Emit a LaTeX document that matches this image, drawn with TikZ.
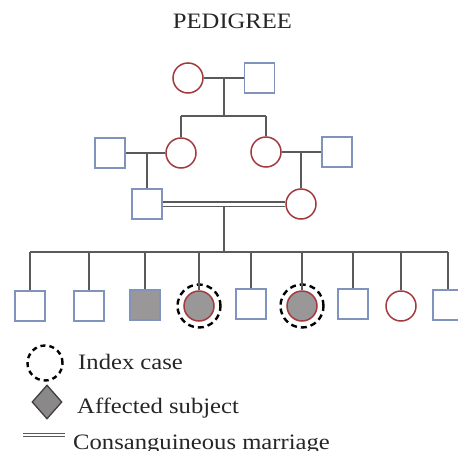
\documentclass[tikz,border=0pt]{standalone}
\usepackage{fontspec}
\setmainfont{Liberation Serif}
\usepackage{tikz}
\usetikzlibrary{shapes.geometric}
\definecolor{femred}{HTML}{A23A3E}
\definecolor{maleblue}{HTML}{7F93BD}
\definecolor{linegray}{HTML}{5A5A5A}
\definecolor{affgray}{HTML}{999797}
\tikzstyle{male}=[rectangle, draw=maleblue, line width=1.5pt, minimum size=30pt, inner sep=0pt, fill=white]
\tikzstyle{female}=[circle, draw=femred, line width=1.5pt, minimum size=30pt, inner sep=0pt, fill=white]
\tikzstyle{affected}=[fill=affgray]
\tikzstyle{indexring}=[circle, draw=black, line width=2.4pt, dash pattern=on 6pt off 4pt, minimum size=43pt, inner sep=0pt]
\tikzstyle{link}=[draw=linegray, line width=1.5pt]
\tikzstyle{consang}=[draw=linegray, line width=1.3pt, double=white, double distance=3pt]
\tikzstyle{legend}=[font=\fontsize{22}{26}\selectfont, xscale=1.12, inner sep=0pt, text=black!85]

\begin{document}
\begin{tikzpicture}[x=1pt, y=-1pt]
		   \clip (0,0) rectangle (458,450);
		   \begin{scope}
			   \node (title) at (232.5, 28)[legend, anchor=base] {PEDIGREE};

			   % first generation
			   \node (f1) at (188, 78)[female] {};
			   \node (m1) at (259.5, 78)[male] {};
			   \coordinate (j1) at (224, 78);
			   \coordinate (s1) at (224, 116);
			   \coordinate (s1l) at (181, 116);
			   \coordinate (s1r) at (266, 116);

			   % second generation
			   \node (m2) at (110, 153)[male] {};
			   \node (f2) at (181, 153)[female] {};
			   \node (f3) at (266, 152)[female] {};
			   \node (m3) at (337, 152)[male] {};
			   \coordinate (j2) at (147, 153);
			   \coordinate (j3) at (301, 152);

			   % consanguineous couple
			   \node (m4) at (147, 204)[male] {};
			   \node (f4) at (301, 204)[female] {};
			   \coordinate (j4) at (224, 206);
			   \coordinate (s2) at (224, 252);
			   \coordinate (s2l) at (30, 252);
			   \coordinate (s2r) at (448, 252);

			   % children
			   \node (c1) at (30, 306)[male] {};
			   \node (c2) at (89, 306)[male] {};
			   \node (c3) at (145, 305)[male, affected] {};
			   \node (c4) at (199, 306)[female, affected] {};
			   \node (c5) at (251, 304)[male] {};
			   \node (c6) at (302, 306)[female, affected] {};
			   \node (c7) at (353, 304)[male] {};
			   \node (c8) at (401, 306)[female] {};
			   \node (c9) at (448, 305)[male] {};
			   \node (i4) at (199, 306)[indexring] {};
			   \node (i6) at (302, 306)[indexring] {};

			   % legend
			   \node (lidx) at (45, 363)[indexring, minimum size=35pt, dash pattern=on 5pt off 4pt] {};
			   \node (tidx) at (78, 369)[legend, anchor=base west] {Index case};
			   \node (laff) at (47, 402)[diamond, draw=black!75, line width=1.3pt, fill=affgray!90!black, minimum width=30pt, minimum height=34pt, inner sep=0pt] {};
			   \node (taff) at (77, 413)[legend, anchor=base west] {Affected subject};
			   \coordinate (lc1) at (23, 435);
			   \coordinate (lc2) at (65, 435);
			   \node (tcon) at (73, 449)[legend, anchor=base west] {Consanguineous marriage};
		   \end{scope}
		   \begin{scope}
			   \path [link] (f1) edge (m1);
			   \path [link] (j1) edge (s1);
			   \path [link] (s1l) edge (s1r);
			   \path [link] (s1l) edge (f2);
			   \path [link] (s1r) edge (f3);

			   \path [link] (m2) edge (f2);
			   \path [link] (j2) edge (m4);
			   \path [link] (f3) edge (m3);
			   \path [link] (j3) edge (f4);

			   \draw [consang] (m4) -- (f4);
			   \path [link] (j4) edge (s2);
			   \path [link] (s2l) edge (s2r);

			   \path [link] (s2l) edge (c1);
			   \path [link] (c2 |- s2) edge (c2);
			   \path [link] (c3 |- s2) edge (c3);
			   \path [link] (c4 |- s2) edge (c4);
			   \path [link] (c5 |- s2) edge (c5);
			   \path [link] (c6 |- s2) edge (c6);
			   \path [link] (c7 |- s2) edge (c7);
			   \path [link] (c8 |- s2) edge (c8);
			   \path [link] (s2r) edge (c9);

			   \draw [consang, line width=1pt, double distance=2.5pt] (lc1) -- (lc2);
		   \end{scope}
	   \end{tikzpicture}
\end{document}
